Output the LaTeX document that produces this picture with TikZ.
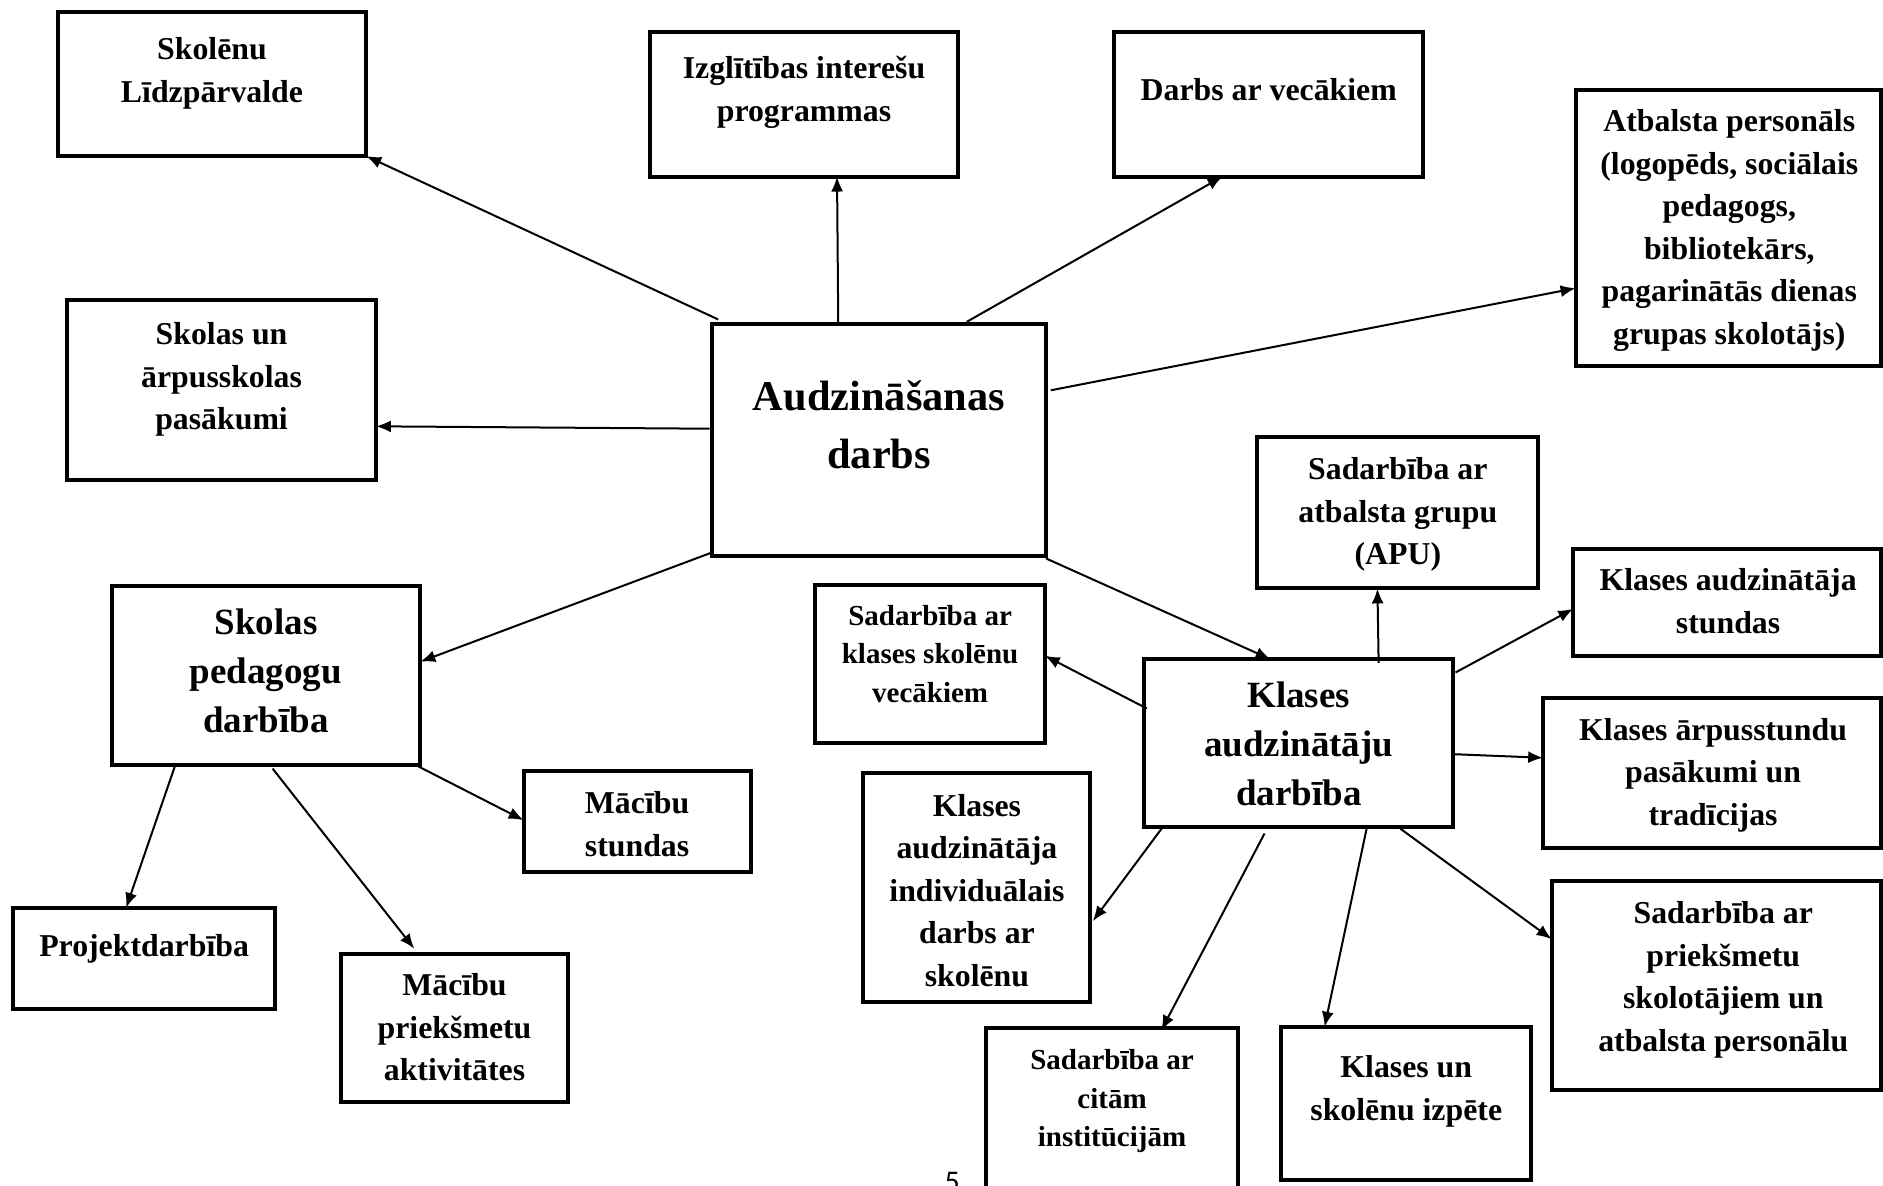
\documentclass[tikz,border=0pt]{standalone}
\usepackage{fontspec}
\setmainfont{Liberation Serif}
\newfontfamily\pgnum{Carlito}
\usetikzlibrary{arrows.meta,calc}
\def\u{0.6004pt}
\newcommand\boxat[5]{\node[bx,anchor=north west,minimum width={(#4-#2)*\u},minimum height={(#5-#3)*\u}] (#1) at (#2,#3) {};}
\begin{document}
\begin{tikzpicture}[x=0.6004pt,y=-0.6004pt,
  bx/.style={draw,line width=2pt,fill=white,inner sep=0pt,outer sep=0pt},
  txt/.style={align=center,inner sep=0pt,font=\fontsize{15.9}{21.3}\selectfont\bfseries},
  txtbig/.style={align=center,inner sep=0pt,font=\fontsize{21.2}{28.8}\selectfont\bfseries},
  txtmid/.style={align=center,inner sep=0pt,font=\fontsize{18.5}{24.6}\selectfont\bfseries},
  txtsmall/.style={align=center,inner sep=0pt,font=\fontsize{14.5}{19.2}\selectfont\bfseries},
  arr/.style={line width=1pt,-{Latex[length=7.5pt,width=6pt]}}]
\useasboundingbox[fill=white] (0,0) rectangle (1568,987);
\node[inner sep=0pt,font=\pgnum\fontsize{15}{17}\selectfont] (pg) at (793,984) {5};
% boxes
\boxat{b1}{48}{10}{305}{130}
\boxat{b2}{541}{27}{798}{147}
\boxat{b3}{928}{27}{1185}{147}
\boxat{b4}{1312}{75}{1566}{305}
\boxat{b5}{56}{250}{313}{400}
\boxat{b6}{593}{270}{871}{463}
\boxat{b7}{93}{488}{350}{637}
\boxat{b8}{436}{642}{625}{726}
\boxat{b9}{11}{756}{229}{840}
\boxat{b10}{284}{794}{473}{918}
\boxat{b11}{1047}{364}{1281}{490}
\boxat{b12}{679}{487}{870}{619}
\boxat{b13}{953}{549}{1210}{689}
\boxat{b14}{1310}{457}{1566}{546}
\boxat{b15}{1285}{581}{1566}{706}
\boxat{b16}{719}{644}{908}{834}
\boxat{b17}{1292}{734}{1566}{908}
\boxat{b18}{821}{856}{1031}{1000}
\boxat{b19}{1067}{855}{1275}{983}
% texts
\node[txt] (t1) at (176.5,61) {Skolēnu\\Līdzpārvalde};
\node[txt] (t2) at (669.5,77) {Izglītības interešu\\programmas};
\node[txt] (t3) at (1056.5,75) {Darbs ar vecākiem};
\node[txt] (t4) at (1440,192) {Atbalsta personāls\\(logopēds, sociālais\\pedagogs,\\bibliotekārs,\\pagarinātās dienas\\grupas skolotājs)};
\node[txt] (t5) at (184.5,316) {Skolas un\\ārpusskolas\\pasākumi};
\node[txtbig] (t6) at (732,353.5) {Audzināšanas\\darbs};
\node[txtmid] (t7) at (221.5,558.5) {Skolas\\pedagogu\\darbība};
\node[txt] (t8) at (530.5,686.5) {Mācību\\stundas};
\node[txt] (t9) at (120,790) {Projektdarbība};
\node[txt] (t10) at (378.5,855.5) {Mācību\\priekšmetu\\aktivitātes};
\node[txt] (t11) at (1164,428.5) {Sadarbība ar\\atbalsta grupu\\(APU)};
\node[txtsmall] (t12) at (774.5,544.5) {Sadarbība ar\\klases skolēnu\\vecākiem};
\node[txtmid] (t13) at (1081.5,619.5) {Klases\\audzinātāju\\darbība};
\node[txt] (t14) at (1439,500.5) {Klases audzinātāja\\stundas};
\node[txt] (t15) at (1426.5,645.5) {Klases ārpusstundu\\pasākumi un\\tradīcijas};
\node[txt] (t16) at (813.5,741.5) {Klases\\audzinātāja\\individuālais\\darbs ar\\skolēnu};
\node[txt] (t17) at (1435,816) {Sadarbība ar\\priekšmetu\\skolotājiem un\\atbalsta personālu};
\node[txtsmall] (t18) at (926,917) {Sadarbība ar\\citām\\institūcijām};
\node[txt] (t19) at (1171,909) {Klases un\\skolēnu izpēte};
% arrows
\draw[arr] ($(b6.north west)+(5,-4)$) -- (b1.south east);
\draw[arr] ($(b6.north west)+(105,-2)$) -- ($(b2.south west)+(156,0)$);
\draw[arr] ($(b6.north west)+(212,-2)$) -- ($(b3.south west)+(90,0)$);
\draw[arr] ($(b6.north east)+(4,55)$) -- ($(b4.north west)+(0,165)$);
\draw[arr] ($(b6.north west)+(-2,87)$) -- ($(b5.north east)+(0,105)$);
\draw[arr] ($(b6.south west)+(0,-3)$) -- ($(b7.north east)+(0,63)$);
\draw[arr] ($(b6.south east)+(0,2)$) -- ($(b13.north west)+(105,0)$);
\draw[arr] ($(b7.south west)+(53,0)$) -- ($(b9.north west)+(94,0)$);
\draw[arr] ($(b7.south west)+(134,3)$) -- ($(b10.north west)+(61,-4)$);
\draw[arr] ($(b7.south east)+(-2,1)$) -- ($(b8.north west)+(0,41)$);
\draw[arr] ($(b13.north west)+(195,3)$) -- ($(b11.south west)+(100,0)$);
\draw[arr] ($(b13.north west)+(2,41)$) -- ($(b12.north east)+(0,59)$);
\draw[arr] ($(b13.north east)+(2,11)$) -- ($(b14.north west)+(0,50)$);
\draw[arr] ($(b13.north east)+(0,79)$) -- ($(b15.north west)+(0,50)$);
\draw[arr] ($(b13.south west)+(15,0)$) -- ($(b16.north east)+(2,123)$);
\draw[arr] ($(b13.south west)+(100,5)$) -- ($(b18.north west)+(146,2)$);
\draw[arr] ($(b13.south west)+(185,1)$) -- ($(b19.north west)+(36,0)$);
\draw[arr] ($(b13.south west)+(213,1)$) -- ($(b17.north west)+(0,48)$);
\end{tikzpicture}
\end{document}
